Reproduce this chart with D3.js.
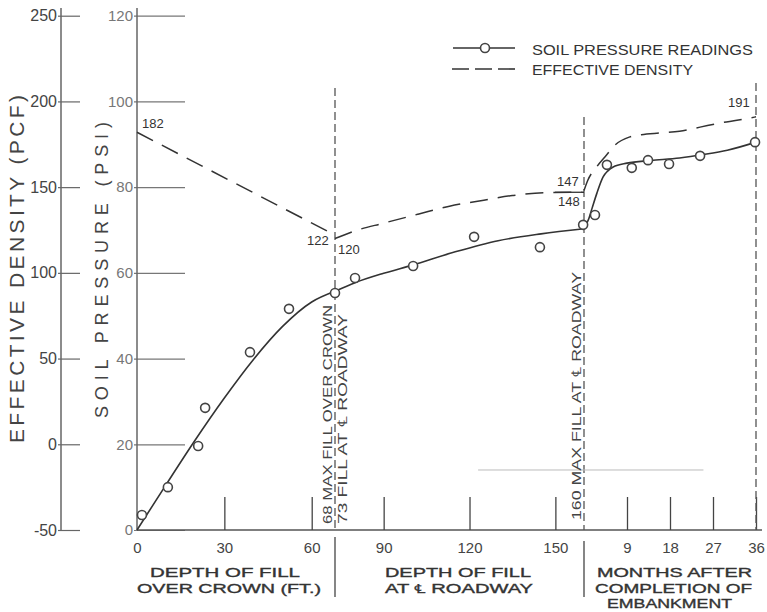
<!DOCTYPE html>
<html>
<head>
<meta charset="utf-8">
<script src="https://cdn.jsdelivr.net/npm/d3@7"></script>
<style>
  html, body { margin: 0; padding: 0; background: #fff; }
  svg { display: block; }
  text { font-family: "Liberation Sans", Arial, sans-serif; }
</style>
</head>
<body>
<svg id="chart" width="767" height="612"></svg>
<script>
// ---- soil pressure readings (circles) ----
const crownDepth = [1.7, 10.6, 21, 23.4, 38.8, 52.2, 68];
const crownPsi   = [3.5, 10, 19.6, 28.5, 41.5, 51.6, 55.3];
const roadDepth  = [80, 100.3, 121.6, 144.6, 159.7];
const roadPsi    = [58.8, 61.6, 68.4, 66, 71.2];
const monthAfter = [2.3, 4.8, 10, 13.4, 17.8, 24.3, 35.8];
const monthPsi   = [73.5, 85.2, 84.5, 86.3, 85.4, 87.3, 90.5];

// ---- fitted soil pressure curve ----
const crownFitDepth = [0, 10, 20, 30, 40, 50, 60, 68];
const crownFitPsi   = [0, 10.6, 21, 30.8, 39.8, 47.5, 53.2, 55.7];
const roadFitDepth  = [73, 80, 90, 100, 115, 130, 145, 160];
const roadFitPsi    = [55.7, 57.7, 59.9, 61.8, 64.9, 67.5, 69.1, 70.3];
const monthFit      = [0, 1, 1.7, 2.7, 4, 5, 6.1, 9, 14, 20, 25, 30, 36];
const monthFitPsi   = [70.3, 72.6, 75.1, 78.6, 82.4, 83.8, 84.7, 85.6, 86.2, 86.8, 87.6, 88.6, 90.5];

// ---- effective density (PCF) ----
const crownDensDepth = [0, 68];
const crownDens      = [182, 122];
const roadDensDepth  = [73, 80, 90, 102, 113, 125, 135, 146, 160];
const roadDens       = [120, 124.5, 129, 134.2, 138.9, 142.4, 145.1, 146.8, 147];
const monthDensM     = [0, 0.8, 2.7, 4.8, 6.1, 9.6, 12, 16, 20, 24.3, 28.5, 32, 36];
const monthDens      = [148, 154, 162, 169, 173.5, 179.3, 180.6, 181.6, 182.6, 185, 187.4, 189, 191];

// ---- axis ticks ----
const pcfTicks   = [-50, 0, 50, 100, 150, 200, 250];
const psiTicks   = [0, 20, 40, 60, 80, 100, 120];
const crownTicks = [0, 30, 60];
const roadTicks  = [90, 120, 150];
const monthTicks = [9, 18, 27, 36];

const svg = d3.select("#chart");
const ink = "#333";

// scales: one vertical pair, three horizontal segments
const yPsi = d3.scaleLinear().domain([0, 120]).range([530, 15.7]);
const yPcf = d3.scaleLinear().domain([-50, 250]).range([530, 15.7]);
const xCrown = d3.scaleLinear().domain([0, 68]).range([137, 335]);
const xRoad  = d3.scaleLinear().domain([73, 160]).range([335, 584]);
const xMonth = d3.scaleLinear().domain([0, 36]).range([584, 756]);

// ---- left axis: effective density ----
const gPcf = svg.append("g").attr("transform", "translate(61,0)")
  .call(d3.axisLeft(yPcf).tickValues(pcfTicks).tickSize(-19).tickPadding(5).tickFormat(d3.format("d")));
gPcf.select(".domain").remove();
gPcf.selectAll(".tick line").attr("stroke", "#666").attr("stroke-width", 1.2).attr("x1", -3);
gPcf.selectAll(".tick text").attr("font-size", 16).attr("fill", "#444")
  .attr("font-family", "Liberation Sans, Arial, sans-serif").attr("x", -4)
  .text(d => d < 0 ? "-" + Math.abs(d) : d);
svg.append("line").attr("x1", 61).attr("x2", 61).attr("y1", 8).attr("y2", yPcf(-50))
  .attr("stroke", "#666").attr("stroke-width", 1.5);

// ---- second axis: soil pressure ----
const gPsi = svg.append("g").attr("transform", "translate(137,0)")
  .call(d3.axisLeft(yPsi).tickValues(psiTicks).tickSize(-48).tickPadding(5));
gPsi.select(".domain").remove();
gPsi.selectAll(".tick line").attr("stroke", "#777").attr("stroke-width", 1.2)
  .attr("x1", -3);
gPsi.selectAll(".tick text").attr("font-size", 15).attr("fill", "#777")
  .attr("font-family", "Liberation Sans, Arial, sans-serif").attr("x", -4);
svg.append("line").attr("x1", 137).attr("x2", 137).attr("y1", 8).attr("y2", yPsi(0))
  .attr("stroke", "#666").attr("stroke-width", 1.5);

// ---- horizontal baseline and segment axes ----
svg.append("line").attr("x1", 137).attr("x2", 762).attr("y1", yPsi(0)).attr("y2", yPsi(0))
  .attr("stroke", "#555").attr("stroke-width", 1.5);

function bottomAxis(scale, ticks) {
  const g = svg.append("g").attr("transform", `translate(0,${yPsi(0)})`)
    .call(d3.axisBottom(scale).tickValues(ticks).tickSize(-33).tickPadding(12));
  g.select(".domain").remove();
  g.selectAll(".tick line").attr("stroke", "#444").attr("stroke-width", 1.3);
  g.selectAll(".tick text").attr("font-size", 15).attr("fill", "#444")
    .attr("font-family", "Liberation Sans, Arial, sans-serif");
  return g;
}
bottomAxis(xCrown, crownTicks).selectAll(".tick").filter(d => d === 0).select("line").remove();
bottomAxis(xRoad, roadTicks);
bottomAxis(xMonth, monthTicks);

// separators between the three horizontal groups
[xCrown(68), xRoad(160)].forEach((x, i) => {
  svg.append("line").attr("x1", x).attr("x2", x)
    .attr("y1", i === 0 ? 537 : 541).attr("y2", 597)
    .attr("stroke", "#444").attr("stroke-width", 1.3);
});

// group titles under the axis
const groupTitles = [
  { lines: ["DEPTH OF FILL", "OVER CROWN (FT.)"], xs: [150, 137], lens: [150, 184] },
  { lines: ["DEPTH OF FILL", "AT \u2104 ROADWAY"], xs: [385, 385], lens: [146, 148] },
  { lines: ["MONTHS AFTER", "COMPLETION OF", "EMBANKMENT"], xs: [597, 595, 607], lens: [155, 157, 125] }
];
groupTitles.forEach(gt => {
  gt.lines.forEach((t, i) => {
    svg.append("text").attr("x", gt.xs[i]).attr("y", 577 + i * 15.5)
      .attr("font-family", "DejaVu Sans, sans-serif").attr("font-size", 12.5)
      .attr("fill", "#333").attr("stroke", "#333").attr("stroke-width", 0.35)
      .attr("textLength", gt.lens[i]).attr("lengthAdjust", "spacingAndGlyphs")
      .text(t);
  });
});

// ---- axis titles ----
svg.append("text").attr("transform", "translate(24,443) rotate(-90)")
  .attr("font-size", 21).attr("fill", "#444").attr("textLength", 348)
  .attr("lengthAdjust", "spacing").text("EFFECTIVE DENSITY (PCF)");
svg.append("text").attr("transform", "translate(108,418) rotate(-90)")
  .attr("font-size", 18).attr("fill", "#444").attr("textLength", 296)
  .attr("lengthAdjust", "spacing").text("SOIL PRESSURE (PSI)");

// ---- vertical reference lines (dashed) ----
const refLines = [
  { x: xCrown(68), top: 88 },
  { x: xRoad(160), top: 117 },
  { x: xMonth(36), top: 83 }
];
refLines.forEach(r => {
  svg.append("line").attr("x1", r.x).attr("x2", r.x).attr("y1", r.top).attr("y2", yPsi(0))
    .attr("stroke", "#555").attr("stroke-width", 1.3).attr("stroke-dasharray", "8,4");
});

// faint horizontal line near the bottom of the right panel
svg.append("line").attr("x1", xRoad(123)).attr("x2", xMonth(25))
  .attr("y1", yPsi(14)).attr("y2", yPsi(14))
  .attr("stroke", "#bbb").attr("stroke-width", 1);

// ---- rotated annotations on the reference lines ----
const rotNotes = [
  { t: "68 MAX FILL OVER CROWN", x: 332, y: 524, len: 219 },
  { t: "73 FILL AT \u2104 ROADWAY", x: 347, y: 524, len: 210 },
  { t: "160 MAX FILL AT \u2104 ROADWAY", x: 581, y: 520, len: 248 }
];
rotNotes.forEach(n => {
  svg.append("text").attr("transform", `translate(${n.x},${n.y}) rotate(-90)`)
    .attr("font-size", 13.5).attr("fill", "#444")
    .attr("textLength", n.len).attr("lengthAdjust", "spacingAndGlyphs").text(n.t);
});

// ---- effective density (dashed) ----
const zip = (a, b) => a.map((v, i) => [v, b[i]]);
const densLine = sx => d3.line().x(d => sx(d[0])).y(d => yPcf(d[1])).curve(d3.curveMonotoneX);
[[xCrown, zip(crownDensDepth, crownDens)],
 [xRoad, zip(roadDensDepth, roadDens)],
 [xMonth, zip(monthDensM, monthDens)]].forEach(([sx, data]) => {
  svg.append("path").attr("d", densLine(sx)(data)).attr("fill", "none")
    .attr("stroke", ink).attr("stroke-width", 1.5).attr("stroke-dasharray", "18,10");
});
// short bar between the 147 / 148 labels
svg.append("line").attr("x1", xRoad(160) - 29).attr("x2", xRoad(160) - 2)
  .attr("y1", yPcf(147)).attr("y2", yPcf(147)).attr("stroke", ink).attr("stroke-width", 1.3);

// density value labels
const densNotes = [
  { t: "182", x: xCrown(0) + 5, y: yPcf(182) - 4 },
  { t: "122", x: xCrown(68) - 28, y: yPcf(122) + 10 },
  { t: "120", x: xRoad(73) + 3, y: yPcf(120) + 15 },
  { t: "147", x: xRoad(160) - 27, y: yPcf(147) - 6 },
  { t: "148", x: xRoad(160) - 26, y: yPcf(148) + 15 },
  { t: "191", x: xMonth(36) - 28, y: yPcf(191) - 10 }
];
densNotes.forEach(n => {
  svg.append("text").attr("x", n.x).attr("y", n.y).attr("font-size", 13)
    .attr("fill", "#333").text(n.t);
});

// ---- soil pressure fitted curve ----
const psiLine = sx => d3.line().x(d => sx(d[0])).y(d => yPsi(d[1])).curve(d3.curveMonotoneX);
[[xCrown, zip(crownFitDepth, crownFitPsi)],
 [xRoad, zip(roadFitDepth, roadFitPsi)],
 [xMonth, zip(monthFit, monthFitPsi)]].forEach(([sx, data]) => {
  svg.append("path").attr("d", psiLine(sx)(data)).attr("fill", "none")
    .attr("stroke", ink).attr("stroke-width", 1.6);
});

// ---- readings ----
[[xCrown, zip(crownDepth, crownPsi)],
 [xRoad, zip(roadDepth, roadPsi)],
 [xMonth, zip(monthAfter, monthPsi)]].forEach(([sx, data]) => {
  svg.append("g").selectAll("circle").data(data).join("circle")
    .attr("cx", d => sx(d[0])).attr("cy", d => yPsi(d[1])).attr("r", 4.5)
    .attr("fill", "#fff").attr("stroke", "#444").attr("stroke-width", 1.6);
});

// ---- legend ----
const lg = svg.append("g");
lg.append("line").attr("x1", 453).attr("x2", 515).attr("y1", 48).attr("y2", 48)
  .attr("stroke", ink).attr("stroke-width", 1.6);
lg.append("circle").attr("cx", 485).attr("cy", 48).attr("r", 4.5)
  .attr("fill", "#fff").attr("stroke", "#444").attr("stroke-width", 1.6);
lg.append("text").attr("x", 532).attr("y", 55).attr("font-size", 15).attr("fill", "#333")
  .attr("textLength", 221).attr("lengthAdjust", "spacingAndGlyphs").text("SOIL PRESSURE READINGS");
lg.append("line").attr("x1", 452).attr("x2", 515).attr("y1", 69).attr("y2", 69)
  .attr("stroke", ink).attr("stroke-width", 1.6).attr("stroke-dasharray", "17,6");
lg.append("text").attr("x", 532).attr("y", 75).attr("font-size", 15).attr("fill", "#333")
  .attr("textLength", 161).attr("lengthAdjust", "spacingAndGlyphs").text("EFFECTIVE DENSITY");
</script>
</body>
</html>
